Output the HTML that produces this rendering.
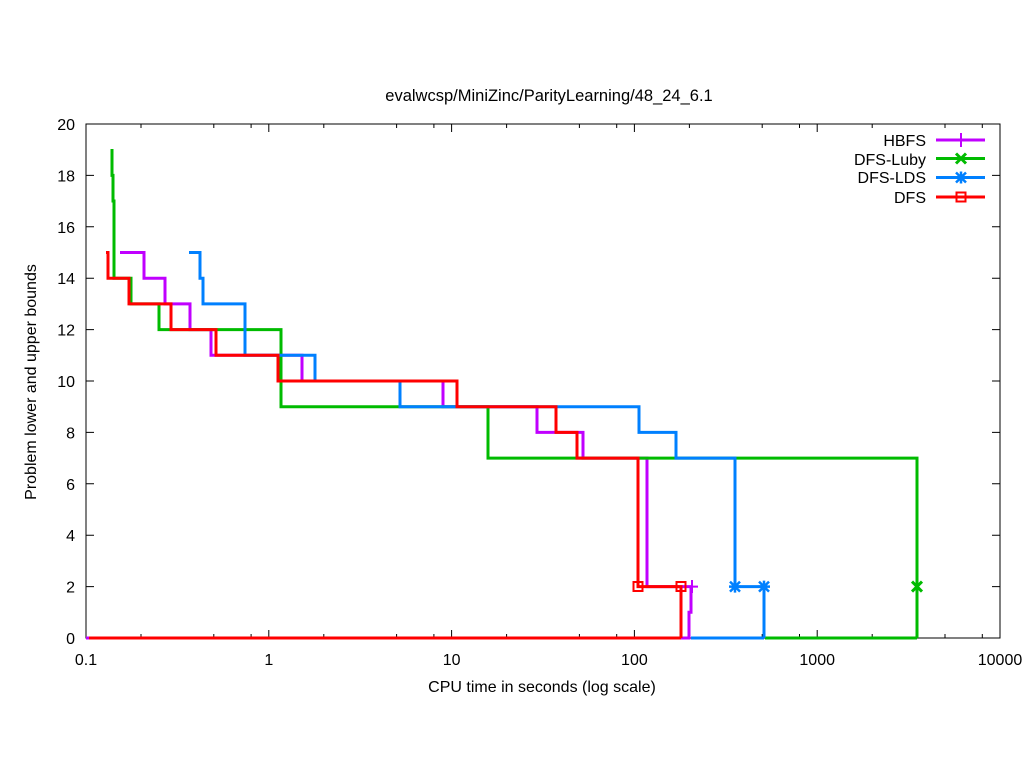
<!DOCTYPE html>
<html><head><meta charset="utf-8"><style>html,body{margin:0;padding:0;background:#fff}svg{display:block}</style></head>
<body>
<svg width="1024" height="768" viewBox="0 0 1024 768" xmlns="http://www.w3.org/2000/svg" font-family="Liberation Sans, Arial, sans-serif" font-size="16">
<rect width="1024" height="768" fill="#fff"/>
<g stroke="#000" stroke-width="1" fill="none">
<path d="M86,124H1000V638H86Z"/>
<path d="M86,638h8M86,586.6h8M86,535.2h8M86,483.8h8M86,432.4h8M86,381h8M86,329.6h8M86,278.2h8M86,226.8h8M86,175.4h8M86,124h8
M1000,638h-8M1000,586.6h-8M1000,535.2h-8M1000,483.8h-8M1000,432.4h-8M1000,381h-8M1000,329.6h-8M1000,278.2h-8M1000,226.8h-8M1000,175.4h-8M1000,124h-8"/>
<path d="M86,638v-8M268.8,638v-8M451.6,638v-8M634.4,638v-8M817.2,638v-8M1000,638v-8
M86,124v8M268.8,124v8M451.6,124v8M634.4,124v8M817.2,124v8M1000,124v8"/>
<path d="M141,638v-4M213.8,638v-4M251.1,638v-4
M323.8,638v-4M396.6,638v-4M433.9,638v-4
M506.6,638v-4M579.4,638v-4M616.7,638v-4
M689.4,638v-4M762.2,638v-4M799.5,638v-4
M872.2,638v-4M945,638v-4M982.3,638v-4
M141,124v4M213.8,124v4M251.1,124v4
M323.8,124v4M396.6,124v4M433.9,124v4
M506.6,124v4M579.4,124v4M616.7,124v4
M689.4,124v4M762.2,124v4M799.5,124v4
M872.2,124v4M945,124v4M982.3,124v4"/>
</g>
<g fill="#000" text-anchor="end">
<text x="75" y="644">0</text><text x="75" y="592.6">2</text><text x="75" y="541.2">4</text><text x="75" y="489.8">6</text><text x="75" y="438.4">8</text><text x="75" y="387">10</text><text x="75" y="335.6">12</text><text x="75" y="284.2">14</text><text x="75" y="232.8">16</text><text x="75" y="181.4">18</text><text x="75" y="130">20</text>
</g>
<g fill="#000" text-anchor="middle">
<text x="86" y="665">0.1</text><text x="268.8" y="665">1</text><text x="451.6" y="665">10</text><text x="634.4" y="665">100</text><text x="817.2" y="665">1000</text><text x="1000" y="665">10000</text>
<text x="542" y="692">CPU time in seconds (log scale)</text>
<text x="549" y="101" font-size="16.5">evalwcsp/MiniZinc/ParityLearning/48_24_6.1</text>
<text transform="translate(36,382) rotate(-90)">Problem lower and upper bounds</text>
</g>
<g fill="none" stroke-width="3">
<g stroke="#c000ff">
<path d="M120,252.5H144V278.2H165V303.9H190V329.6H211V355.3H302V381H443V406.7H537V432.4H583V458.1H647V586.6H693"/>
<path d="M86,638H689V612.3H691V586.6"/>
<path d="M692,580v13M686,586.6h12" stroke-width="2"/>
</g>
<g stroke="#00bb00">
<path d="M112,149V175.4H113V201H114V278.2H131V303.9H159V329.6H281V406.7H488V458.1H917V638"/>
<path d="M765,638H917"/>
<path d="M912,581.6l10,10M912,591.6l10,-10" stroke-width="3"/>
</g>
<g stroke="#0080ff">
<path d="M189,252.5H200V278.2H203V303.9H245V355.3H315V381H400V406.7H639V432.4H676V458.1H735V586.6H764V638"/>
<path d="M691,638H764"/>
<g stroke-width="2.5"><path d="M730,581.6l10,10M730,591.6l10,-10M735,580.6v12M729,586.6h12"/>
<path d="M759,581.6l10,10M759,591.6l10,-10M764,580.6v12M758,586.6h12"/></g>
</g>
<g stroke="#ff0000">
<path d="M106,252.5H108V278.2H129V303.9H171V329.6H216V355.3H278V381H457V406.7H556V432.4H577V458.1H638V586.6H681V638"/>
<path d="M89,638H681"/>
<rect x="633.5" y="582" width="9" height="9" stroke-width="2"/>
<rect x="676.5" y="582" width="9" height="9" stroke-width="2"/>
</g>
</g>
<g fill="#000" text-anchor="end">
<text x="926" y="146">HBFS</text><text x="926" y="165">DFS-Luby</text><text x="926" y="183">DFS-LDS</text><text x="926" y="203">DFS</text>
</g>
<g fill="none" stroke-width="3">
<path d="M936,140H985" stroke="#c000ff"/><path d="M961,133v14" stroke="#c000ff" stroke-width="2"/>
<path d="M936,158.5H985" stroke="#00bb00"/><path d="M956,153.5l10,10M956,163.5l10,-10" stroke="#00bb00"/>
<path d="M936,177.5H985" stroke="#0080ff"/><path d="M956,172.5l10,10M956,182.5l10,-10M961,171.5v12M955,177.5h12" stroke="#0080ff" stroke-width="2.5"/>
<path d="M936,197H985" stroke="#ff0000"/><rect x="956.5" y="192.5" width="9" height="9" stroke="#ff0000" stroke-width="2"/>
</g>
</svg>
</body></html>
